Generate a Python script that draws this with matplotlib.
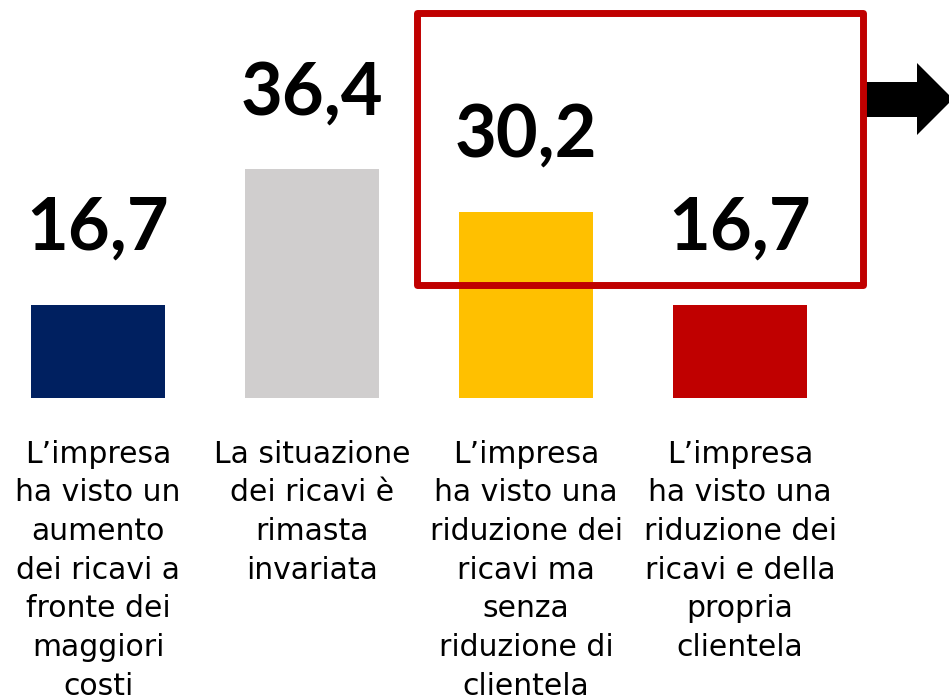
import matplotlib
matplotlib.use("Agg")
import matplotlib.pyplot as plt
from matplotlib.patches import Rectangle, Polygon

W, H = 949, 699

categories = [
    "L\u2019impresa\nha visto un\naumento\ndei ricavi a\nfronte dei\nmaggiori\ncosti",
    "La situazione\ndei ricavi \u00e8\nrimasta\ninvariata",
    "L\u2019impresa\nha visto una\nriduzione dei\nricavi ma\nsenza\nriduzione di\nclientela",
    "L\u2019impresa\nha visto una\nriduzione dei\nricavi e della\npropria\nclientela",
]
values = [16.7, 36.4, 30.2, 16.7]
value_labels = ["16,7", "36,4", "30,2", "16,7"]
colors = ["#002060", "#D0CECE", "#FFC000", "#C00000"]

fig = plt.figure(figsize=(W / 100, H / 100), dpi=100)
fig.patch.set_facecolor("white")

# plot area: baseline 301 px above the bottom edge, bars spaced 214 px
ax = fig.add_axes([0, 301 / H, 1, 398 / H])
ax.set_xlim(-98 / 214, (W - 98) / 214)
ax.set_ylim(3.2, 3.2 + 398 / 6.9)

x = range(len(values))
ax.bar(x, values, width=0.626, color=colors, zorder=2)

for i, (v, lab) in enumerate(zip(values, value_labels)):
    ax.annotate(lab, (i, v), xytext=(0, 39.5), textcoords="offset points",
                ha="center", va="baseline", fontsize=52, fontweight="bold",
                family=["Lato", "DejaVu Sans"], color="black")

ax.set_xticks(list(x))
ax.set_xticklabels(categories, fontsize=21.5, family="DejaVu Sans", color="black")
for t in ax.get_xticklabels():
    t.set_linespacing(1.42)
ax.tick_params(axis="x", length=0, pad=30)
ax.set_yticks([])
for s in ax.spines.values():
    s.set_visible(False)
ax.patch.set_alpha(0)

# arrow pointing out of the highlight box
pts = [(862, 82), (917, 82), (917, 63), (953, 99), (917, 135), (917, 117), (862, 117)]
fig.patches.append(Polygon([(px / W, (H - py) / H) for px, py in pts], closed=True,
                           facecolor="black", edgecolor="none",
                           transform=fig.transFigure, figure=fig, zorder=3))

# red highlight box around the two reduction categories
fig.patches.append(Rectangle((416.5 / W, (H - 284.5) / H), (862.5 - 416.5) / W, (284.5 - 12.5) / H,
                             facecolor="none", edgecolor="#C00000", linewidth=5,
                             joinstyle="round", transform=fig.transFigure, figure=fig, zorder=4))

fig.savefig("out.png", dpi=100)
